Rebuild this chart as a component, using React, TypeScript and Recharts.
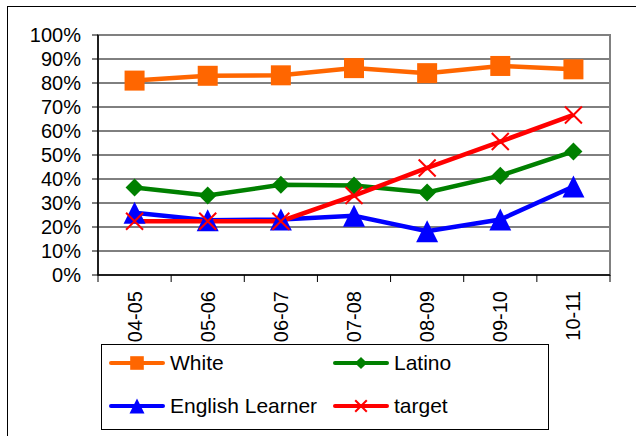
import { CartesianGrid, Legend, Line, LineChart, ReferenceArea, XAxis, YAxis } from "recharts";

const years = ["04-05", "05-06", "06-07", "07-08", "08-09", "09-10", "10-11"];
const white = [0.81, 0.83, 0.832, 0.862, 0.841, 0.871, 0.857];
const latino = [0.365, 0.331, 0.376, 0.373, 0.344, 0.414, 0.515];
const englishLearner = [0.259, 0.228, 0.231, 0.247, 0.182, 0.231, 0.369];
const target = [0.224, 0.224, 0.224, 0.331, 0.446, 0.556, 0.667];
const yTicks = [0, 0.1, 0.2, 0.3, 0.4, 0.5, 0.6, 0.7, 0.8, 0.9, 1];

const data = years.map((year, i) => ({
  year,
  white: white[i],
  latino: latino[i],
  el: englishLearner[i],
  target: target[i],
}));

type Shape = "square" | "diamond" | "triangle" | "x";

const series: { key: string; name: string; color: string; shape: Shape }[] = [
  { key: "white", name: "White", color: "#FF6600", shape: "square" },
  { key: "latino", name: "Latino", color: "#008000", shape: "diamond" },
  { key: "el", name: "English Learner", color: "#0000FF", shape: "triangle" },
  { key: "target", name: "target", color: "#FF0000", shape: "x" },
];

const FONT = '"Liberation Sans", Arial, sans-serif';
const PLOT_W = 512;

function Marker({ cx, cy, shape, c, s = 1 }: any) {
  if (cx == null || cy == null) return null;
  if (shape === "square") {
    const h = 10 * s;
    return <rect x={cx - h} y={cy - h} width={h * 2} height={h * 2} fill={c} />;
  }
  if (shape === "diamond") {
    const h = 9 * s;
    return <polygon points={`${cx},${cy - h} ${cx + h},${cy} ${cx},${cy + h} ${cx - h},${cy}`} fill={c} />;
  }
  if (shape === "triangle") {
    const h = 11 * s;
    return <polygon points={`${cx},${cy - h} ${cx + h},${cy + h} ${cx - h},${cy + h}`} fill={c} />;
  }
  const h = 8.5 * s;
  return (
    <g stroke={c} strokeWidth={2}>
      <line x1={cx - h} y1={cy - h} x2={cx + h} y2={cy + h} />
      <line x1={cx - h} y1={cy + h} x2={cx + h} y2={cy - h} />
    </g>
  );
}

// Excel-style category axis: ticks between categories, labels turned upright
function YearTick({ x, y, payload, index }: any) {
  const band = PLOT_W / years.length;
  return (
    <g>
      <line x1={x - band / 2} x2={x - band / 2} y1={y} y2={y + 7} stroke="#000" />
      {index === years.length - 1 && (
        <line x1={x + band / 2} x2={x + band / 2} y1={y} y2={y + 7} stroke="#000" />
      )}
      <text
        transform={`translate(${x + 7},${y + 16}) rotate(-90)`}
        textAnchor="end"
        fontSize={20}
        fontFamily={FONT}
        fill="#000"
      >
        {payload.value}
      </text>
    </g>
  );
}

function LegendBox() {
  return (
    <div style={{ position: "relative", width: "100%", height: "100%" }}>
      {series.map((s, i) => {
        const col = i % 2;
        const row = Math.floor(i / 2);
        return (
          <div
            key={s.key}
            style={{
              position: "absolute",
              left: col ? 231 : 7,
              top: (row ? 61 : 18) - 11,
              height: 22,
              display: "flex",
              alignItems: "center",
              whiteSpace: "nowrap",
            }}
          >
            <svg width={56} height={22}>
              <line x1={2} x2={54} y1={11} y2={11} stroke={s.color} strokeWidth={4} strokeLinecap="round" />
              <Marker cx={28} cy={11} shape={s.shape} c={s.color} s={0.68} />
            </svg>
            <span style={{ marginLeft: 5, fontSize: 21, fontFamily: FONT, color: "#000", lineHeight: "22px" }}>
              {s.name}
            </span>
          </div>
        );
      })}
    </div>
  );
}

export default function App() {
  return (
    <div style={{ position: "absolute", left: 0, top: 0, width: 636, height: 436, overflow: "hidden", background: "#fff" }}>
      <div
        style={{
          position: "absolute",
          left: 7,
          top: 6,
          width: 640,
          height: 440,
          borderTop: "1px solid #000",
          borderLeft: "1px solid #000",
        }}
      />
      <div style={{ position: "absolute", left: 0, top: 0 }}>
        <LineChart width={636} height={436} data={data} margin={{ top: 35, right: 26, left: 0, bottom: 0 }}>
          <CartesianGrid vertical={false} stroke="#000" strokeWidth={1} />
          {/* grey plot-area frame, as Excel draws it */}
          <ReferenceArea
            x1={years[0]}
            x2={years[years.length - 1]}
            y1={0}
            y2={1}
            fill="none"
            stroke="#808080"
            strokeWidth={2}
          />
          <XAxis
            dataKey="year"
            scale="band"
            height={161}
            interval={0}
            tickSize={0}
            tickMargin={0}
            tickLine={false}
            axisLine={{ stroke: "#000", strokeWidth: 1.5 }}
            tick={<YearTick />}
          />
          <YAxis
            width={98}
            domain={[0, 1]}
            ticks={yTicks}
            interval={0}
            tickSize={6}
            tickMargin={11}
            tickLine={{ stroke: "#000" }}
            axisLine={{ stroke: "#000", strokeWidth: 1.5 }}
            tick={{ fill: "#000", fontSize: 20, fontFamily: FONT }}
            tickFormatter={(v: number) => `${Math.round(v * 100)}%`}
          />
          {series.map((s) => (
            <Line
              key={s.key}
              dataKey={s.key}
              name={s.name}
              type="linear"
              stroke={s.color}
              strokeWidth={4.5}
              dot={<Marker shape={s.shape} c={s.color} />}
              activeDot={false}
              isAnimationActive={false}
            />
          ))}
          <Legend
            verticalAlign="middle"
            layout="horizontal"
            wrapperStyle={{
              left: 101,
              top: 344,
              width: 448,
              height: 86,
              border: "1px solid #000",
              background: "#fff",
              boxSizing: "border-box",
            }}
            content={() => <LegendBox />}
          />
        </LineChart>
      </div>
    </div>
  );
}
